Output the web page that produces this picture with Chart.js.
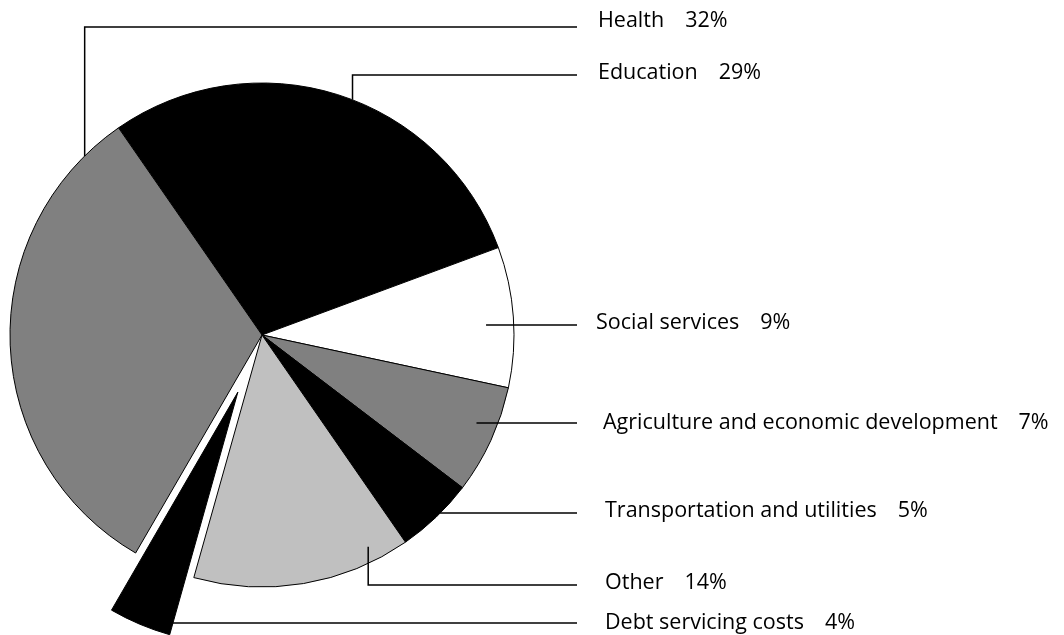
<!DOCTYPE html>
<html>
<head>
<meta charset="utf-8">
<script src="https://cdn.jsdelivr.net/npm/chart.js@4/dist/chart.umd.min.js"></script>
<style>
  html, body { margin: 0; padding: 0; background: #ffffff; }
  canvas { display: block; }
</style>
</head>
<body>
<canvas id="pie" width="1064" height="635"></canvas>
<script>
// Spending shares, in drawing order (clockwise from the Health/Education boundary)
const categories = [
  'Education',
  'Social services',
  'Agriculture and economic development',
  'Transportation and utilities',
  'Other',
  'Debt servicing costs',
  'Health'
];
const shares = [29, 9, 7, 5, 14, 4, 32];
const sliceColors = ['#000000', '#ffffff', '#808080', '#000000', '#c0c0c0', '#000000', '#808080'];
// How far each slice is pulled out from the centre, in pixels
const explode = [0, 0, 0, 0, 0, 62, 0];

// Leader-line layout per slice: t = position along the arc (0..1), rf = fraction of radius,
// kind = 'elbow' (vertical then horizontal) or 'flat' (horizontal only)
const leaders = [
  { t: 0.534, rf: 1.00, kind: 'elbow', lineY: 75,  textX: 598, baseY: 79 },
  { t: 0.546, rf: 0.89, kind: 'flat',  lineY: 325, textX: 596, baseY: 329 },
  { t: 0.405, rf: 0.92, kind: 'flat',  lineY: 423, textX: 603, baseY: 429 },
  { t: 0.430, rf: 1.00, kind: 'flat',  lineY: 513, textX: 605, baseY: 517 },
  { t: 0.160, rf: 0.94, kind: 'elbow', lineY: 585, textX: 605, baseY: 589 },
  { t: 0.360, rf: 0.98, kind: 'flat',  lineY: 623, textX: 605, baseY: 629 },
  { t: 0.913, rf: 1.00, kind: 'elbow', lineY: 27,  textX: 598, baseY: 27 }
];
const LINE_END_X = 577;
const PCT_GAP = 21;
const LABEL_FONT = '21.5px "Open Sans", "Noto Sans", sans-serif';

// Moves exploded slices outward along their mid-angle without enlarging them
const explodeSlices = {
  id: 'explodeSlices',
  afterDatasetUpdate(chart, args) {
    if (args.index !== 0) return;
    chart.getDatasetMeta(0).data.forEach((arc, i) => {
      const d = explode[i] || 0;
      if (!d) return;
      const mid = (arc.startAngle + arc.endAngle) / 2;
      arc.x += Math.cos(mid) * d;
      arc.y += Math.sin(mid) * d;
    });
  }
};

const leaderLabels = {
  id: 'leaderLabels',
  afterDatasetsDraw(chart) {
    const ctx = chart.ctx;
    const arcs = chart.getDatasetMeta(0).data;
    ctx.save();
    ctx.strokeStyle = '#000000';
    ctx.lineWidth = 1.5;
    ctx.fillStyle = '#000000';
    ctx.font = LABEL_FONT;
    ctx.textBaseline = 'alphabetic';
    ctx.textAlign = 'left';
    arcs.forEach((arc, i) => {
      const L = leaders[i];
      const a = arc.startAngle + (arc.endAngle - arc.startAngle) * L.t;
      const ax = arc.x + Math.cos(a) * arc.outerRadius * L.rf;
      const ay = arc.y + Math.sin(a) * arc.outerRadius * L.rf;
      ctx.beginPath();
      if (L.kind === 'elbow') {
        ctx.moveTo(ax, ay);
        ctx.lineTo(ax, L.lineY);
        ctx.lineTo(LINE_END_X, L.lineY);
      } else {
        ctx.moveTo(ax, L.lineY);
        ctx.lineTo(LINE_END_X, L.lineY);
      }
      ctx.stroke();
      const name = categories[i];
      ctx.fillText(name, L.textX, L.baseY);
      const w = ctx.measureText(name).width;
      ctx.fillText(shares[i] + '%', L.textX + w + PCT_GAP, L.baseY);
    });
    ctx.restore();
  }
};

new Chart(document.getElementById('pie'), {
  type: 'pie',
  data: {
    labels: categories,
    datasets: [{
      data: shares,
      backgroundColor: sliceColors,
      borderColor: '#000000',
      borderWidth: 1,
      radius: 252
    }]
  },
  options: {
    responsive: false,
    animation: false,
    events: [],
    rotation: -34.7,
    layout: { padding: { left: 0, right: 540, top: 35, bottom: 0 } },
    plugins: {
      legend: { display: false },
      tooltip: { enabled: false }
    }
  },
  plugins: [explodeSlices, leaderLabels]
});
</script>
</body>
</html>
